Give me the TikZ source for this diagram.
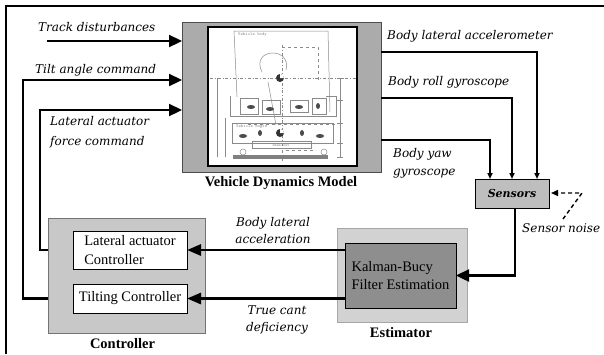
\documentclass[tikz,border=0pt]{standalone}
\usepackage{fontspec}
\setmainfont{Liberation Serif}
\newfontfamily\lblfont{DejaVu Serif}
\usetikzlibrary{arrows.meta}
\definecolor{vdmgray}{HTML}{ABABAB}
\definecolor{ctrlgray}{HTML}{C8C8C8}
\definecolor{estlight}{HTML}{D2D2D2}
\definecolor{estdark}{HTML}{8E8E8E}
\definecolor{sensgray}{HTML}{BEBEBE}
\definecolor{skgray}{HTML}{8A8A8A}
\tikzset{
  lbl/.style={font=\lblfont\itshape\fontsize{12}{17}\selectfont, inner sep=0pt},
  boxtxt/.style={font=\fontsize{14.5}{18.5}\selectfont},
  capt/.style={font=\bfseries\fontsize{14.5}{17}\selectfont, inner sep=0pt},
  plainbox/.style={rectangle, inner sep=0pt, outer sep=0pt},
  inarrow/.style={line width=2.3pt, -{Triangle[length=13pt,width=12pt]}},
  outarrow/.style={line width=1.7pt, -{Triangle[length=6pt,width=5pt]}},
  fbarrow/.style={line width=2.8pt, -{Triangle[length=14pt,width=11pt]}},
  sensarrow/.style={line width=2.4pt, -{Triangle[length=13pt,width=12pt]}},
  sk/.style={draw=skgray, line width=0.5pt},
  sktext/.style={font=\ttfamily\fontsize{4.5}{5}\selectfont, text=skgray, inner sep=0pt},
}
\begin{document}
\begin{tikzpicture}[x=1pt,y=-1pt]
\useasboundingbox (0,0) rectangle (604,354);
\fill[white] (0,0) rectangle (604,354);
\draw[line width=1.2pt] (6,354) -- (6,6) -- (604,6);

% Vehicle dynamics model
\node[plainbox, fill=vdmgray, draw=black!70, line width=0.8pt,
      minimum width=199pt, minimum height=150pt] (vdm) at (281.5,97) {};
\node[plainbox, fill=white, draw=black, line width=1.2pt,
      minimum width=149pt, minimum height=139pt] (pic) at (282.5,96.5) {};
\node[capt] (vdmcap) at (281,183) {Vehicle Dynamics Model};

% schematic sketch inside the picture
\begin{scope}
  \draw[sk] (237,97) -- (234,31) -- (328,31) -- (330,112);
  \node[sktext, anchor=west] (skbody) at (238,35) {Vehicle body};
  \draw[sk, dash dot] (210,78) -- (356,78);
  \draw[sk, dash dot] (282,45) -- (282,162);
  \draw[sk, dashed] (282,47) -- (318,47) -- (318,80);
  \draw[sk] (262,72) .. controls (250,48) and (292,46) .. (286,70);
  \draw[sk] (268,82) -- (276,125);
  \draw[sk] (230,96) -- (230,116) -- (336,116) -- (336,96) -- (326,96);
  \draw[sk] (240,98) rectangle (258,114);
  \draw[sk] (262,100) rectangle (280,114);
  \draw[sk] (290,100) rectangle (308,112);
  \draw[sk] (312,98) rectangle (326,114);
  \draw[sk] (232,123) rectangle (333,143);
  \node[sktext, anchor=west] (skbogie) at (236,127) {Vehicle bogie};
  \draw[sk] (252,141) rectangle (311,148);
  \node[sktext, font=\ttfamily\fontsize{4}{5}\selectfont] (skws) at (281,145) {Wheelset};
  \fill[gray] (233,155) rectangle (328,159);
  \draw[sk] (217,78) -- (217,157);
  \draw[sk] (225,118) -- (225,157);
  \draw[sk] (340,78) -- (340,157);
  \foreach \yy in {78,100,123,143,157} { \draw[sk] (337,\yy) -- (343,\yy); }
  \draw[sk, dashed] (248,124) -- (337,124);
  \draw[sk, dashed] (286,150) -- (316,150);
  \fill[black!80] (280,78) circle[radius=4pt];
  \fill[white] (280,78) -- (284,78) arc[start angle=0, end angle=90, radius=4pt] -- cycle;
  \fill[black!80] (280,133) circle[radius=4pt];
  \fill[white] (280,133) -- (284,133) arc[start angle=0, end angle=90, radius=4pt] -- cycle;
  \draw[sk] (243,152) circle[radius=3pt];
  \draw[sk] (324,152) circle[radius=3pt];
  \fill[black!70] (251,107) ellipse[x radius=4pt, y radius=2pt];
  \fill[black!70] (270,109) ellipse[x radius=4pt, y radius=2pt];
  \fill[black!70] (299,107) ellipse[x radius=4pt, y radius=2pt];
  \fill[black!70] (318,106) ellipse[x radius=2pt, y radius=3pt];
  \fill[black!70] (243,136) ellipse[x radius=4pt, y radius=2pt];
  \fill[black!70] (260,133) ellipse[x radius=2pt, y radius=3pt];
  \fill[black!70] (302,133) ellipse[x radius=2pt, y radius=3pt];
  \fill[black!70] (320,136) ellipse[x radius=4pt, y radius=2pt];
\end{scope}

% Controller
\node[plainbox, fill=ctrlgray, draw=black!55, line width=0.8pt,
      minimum width=157pt, minimum height=115pt] (ctrl) at (126.5,275.5) {};
\node[plainbox, boxtxt, fill=white, draw=black, line width=0.8pt,
      minimum width=114pt, minimum height=38pt, align=left] (lac) at (130,250) {Lateral actuator\\Controller};
\node[plainbox, boxtxt, fill=white, draw=black, line width=0.8pt,
      minimum width=114pt, minimum height=29pt, align=center] (tc) at (130,298.5) {Tilting Controller};
\node[capt] (ctrlcap) at (122.5,344) {Controller};

% Estimator
\node[plainbox, fill=estlight, draw=black!35, line width=0.8pt,
      minimum width=130pt, minimum height=94pt] (esto) at (402,275) {};
\node[plainbox, boxtxt, fill=estdark, draw=black, line width=0.8pt,
      minimum width=111pt, minimum height=65pt, align=left] (esti) at (400.5,275.5) {Kalman-Bucy\\Filter Estimation};
\node[capt] (estcap) at (401,333) {Estimator};

% Sensors
\node[plainbox, fill=sensgray, draw=black, line width=0.8pt,
      minimum width=74pt, minimum height=29pt,
      font=\lblfont\bfseries\itshape\fontsize{11}{13}\selectfont] (sens) at (512,193.5) {Sensors};

% input arrows
\coordinate (td) at (47,41);
\draw[inarrow] (td) -- (td -| vdm.west);
\coordinate (c1) at (23,80);
\draw[inarrow] (ctrl.west |- tc.west) -| (c1) -- (c1 -| vdm.west);
\coordinate (c2) at (40,110);
\draw[inarrow] (ctrl.west |- lac.west) -| (c2) -- (c2 -| vdm.west);

% outputs to sensors
\coordinate (a1) at (537,52);
\coordinate (a2) at (512,98);
\coordinate (a3) at (490,140);
\draw[outarrow] (a1 -| vdm.east) -| (a1 |- sens.north);
\draw[outarrow] (a2 -| vdm.east) -| (a2 |- sens.north);
\draw[outarrow] (a3 -| vdm.east) -| (a3 |- sens.north);

% sensors to estimator
\draw[sensarrow] ([xshift=3pt]sens.south) |- (esti.east);

% estimator to controllers
\draw[fbarrow] (esti.west |- lac.east) -- (lac.east);
\draw[fbarrow] (esti.west |- tc.east) -- (tc.east);

% sensor noise
\coordinate (n1) at (563,219);
\coordinate (n2) at (582,193);
\draw[line width=1.4pt, dash pattern=on 4pt off 3pt, shorten >=2pt,
      -{Triangle[length=7pt,width=6pt]}] (n1) -- (n2) -- (n2 -| sens.east);

% labels
\node[lbl, anchor=west] (ltd) at (38,27) {Track disturbances};
\node[lbl, anchor=west] (lta) at (35,70) {Tilt angle command};
\node[lbl, anchor=west, align=left, font=\lblfont\itshape\fontsize{12}{20}\selectfont] (llf) at (50,132) {Lateral actuator\\force command};
\node[lbl, anchor=west] (lbla) at (387,36) {Body lateral accelerometer};
\node[lbl, anchor=west] (lbrg) at (388,82) {Body roll gyroscope};
\node[lbl, anchor=west, align=left, font=\lblfont\itshape\fontsize{12}{18}\selectfont] (lbyg) at (393,163) {Body yaw\\gyroscope};
\node[lbl, align=center] (lbac) at (273,231) {Body lateral\\acceleration};
\node[lbl, align=center] (ltcd) at (277,320) {True cant\\deficiency};
\node[lbl, anchor=west] (lsn) at (522,228) {Sensor noise};
\end{tikzpicture}
\end{document}
